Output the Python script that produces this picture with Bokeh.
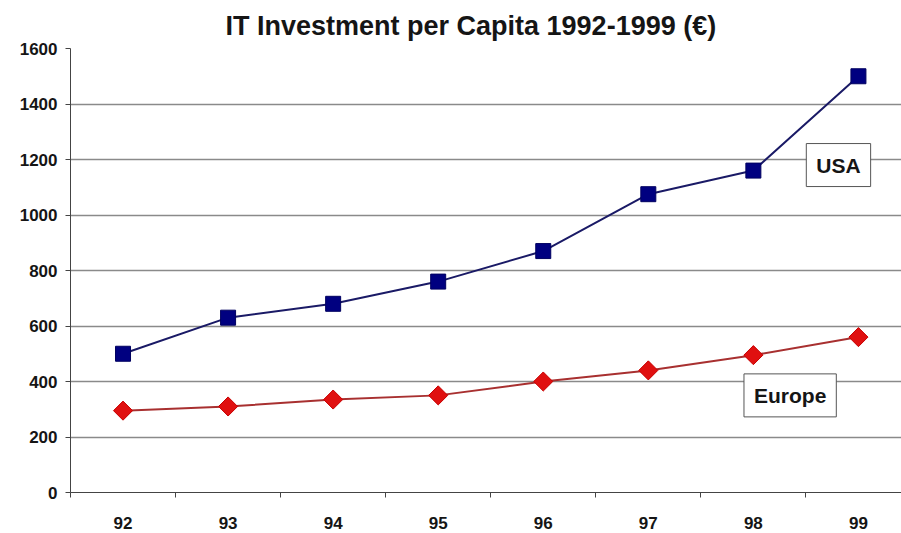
import math
from bokeh.plotting import figure
from bokeh.models import Range1d, FixedTicker, Label, ColumnDataSource
from bokeh.embed import file_html
from bokeh.resources import INLINE

# Data
years = ["92", "93", "94", "95", "96", "97", "98", "99"]
usa = [500, 630, 680, 760, 870, 1075, 1160, 1500]
europe = [295, 310, 335, 350, 400, 440, 495, 560]
y_ticks = [0, 200, 400, 600, 800, 1000, 1200, 1400, 1600]

xpos = list(range(len(years)))
src = ColumnDataSource(dict(x=xpos, usa=usa, europe=europe))

FONT = "Liberation Sans"

p = figure(width=901, height=533, output_backend="svg", toolbar_location=None,
           x_range=Range1d(-0.5, 7.41), y_range=Range1d(0, 1600),
           min_border_left=70, min_border_right=0, min_border_top=48,
           min_border_bottom=41)
p.title.text = "IT Investment per Capita 1992-1999 (€)"
p.title.align = "left"
p.title.offset = 155
p.title.standoff = 15
p.title.text_font = FONT
p.title.text_font_size = "27px"
p.title.text_font_style = "bold"
p.title.text_color = "#151515"
p.outline_line_color = None
p.background_fill_color = "white"

# Axes
p.yaxis.ticker = FixedTicker(ticks=y_ticks)
p.yaxis.major_label_text_font = FONT
p.yaxis.major_label_text_font_size = "17px"
p.yaxis.major_label_text_font_style = "bold"
p.yaxis.major_label_text_color = "#151515"
p.yaxis.major_tick_in = 0
p.yaxis.major_tick_out = 5
p.yaxis.minor_tick_line_color = None
p.yaxis.axis_line_color = "#444444"
p.yaxis.major_tick_line_color = "#444444"
p.yaxis.major_label_standoff = 8

p.xaxis.ticker = FixedTicker(ticks=xpos, minor_ticks=[i + 0.5 for i in range(-1, 8)])
p.xaxis.major_label_overrides = {i: y for i, y in enumerate(years)}
p.xaxis.major_label_text_font = FONT
p.xaxis.major_label_text_font_size = "17px"
p.xaxis.major_label_text_font_style = "bold"
p.xaxis.major_label_text_color = "#151515"
p.xaxis.major_tick_in = 0
p.xaxis.major_tick_out = 0
p.xaxis.minor_tick_in = 0
p.xaxis.minor_tick_out = 5
p.xaxis.minor_tick_line_color = "#444444"
p.xaxis.axis_line_color = "#444444"
p.xaxis.major_label_standoff = 19

p.xgrid.grid_line_color = None
p.ygrid.grid_line_color = "#8a8a8a"
p.ygrid.grid_line_width = 1.5

# Series
p.line("x", "usa", source=src, line_color="#1a1a66", line_width=2)
p.scatter("x", "usa", source=src, marker="square", size=15,
          fill_color="#000080", line_color="#000060")
p.line("x", "europe", source=src, line_color="#a83030", line_width=2)
p.scatter("x", "europe", source=src, marker="square", size=13.5, angle=math.pi / 4,
          fill_color="#e01010", line_color="#c80000")

# Series labels in boxes
for txt, lx, ly in [("USA", 6.81, 1180), ("Europe", 6.35, 350)]:
    p.add_layout(Label(x=lx, y=ly, text=txt, text_font=FONT, text_font_size="21px",
                       text_font_style="bold", text_color="#151515",
                       text_align="center", text_baseline="middle",
                       background_fill_color="white", border_line_color="#555555",
                       border_line_width=1, padding=10))

open("out.html", "w").write(file_html(p, INLINE))
